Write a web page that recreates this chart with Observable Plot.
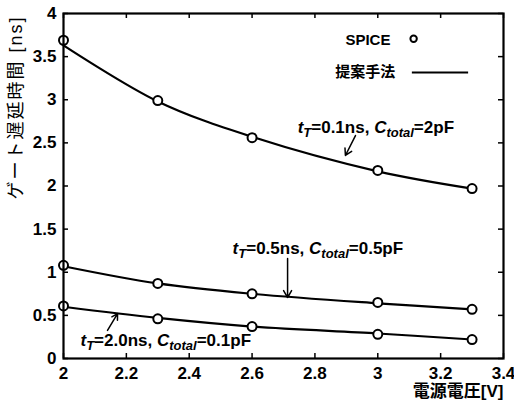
<!DOCTYPE html>
<html>
<head>
<meta charset="utf-8">
<script src="https://cdn.jsdelivr.net/npm/d3@7"></script>
<script src="https://cdn.jsdelivr.net/npm/@observablehq/plot@0.6"></script>
<style>
  html, body { margin: 0; padding: 0; background: #fff; }
  #chart { width: 514px; height: 401px; }
</style>
</head>
<body>
<div id="chart"></div>
<script>
// ---- data ----
const voltage = [2.0, 2.3, 2.6, 3.0, 3.3];
const spice01 = [3.69, 2.99, 2.56, 2.18, 1.97];
const model01 = [3.63, 2.98, 2.57, 2.17, 1.97];
const spice05 = [1.08, 0.87, 0.75, 0.65, 0.57];
const model05 = [1.07, 0.87, 0.75, 0.64, 0.57];
const spice20 = [0.61, 0.46, 0.37, 0.28, 0.22];
const model20 = [0.60, 0.47, 0.37, 0.29, 0.22];

const xTicks = [2, 2.2, 2.4, 2.6, 2.8, 3, 3.2, 3.4];
const yTicks = [0, 0.5, 1, 1.5, 2, 2.5, 3, 3.5, 4];

const yLabel = "ゲート遅延時間 [ns]";
const xLabel = "電源電圧[V]";

const annLabels = ["t|T|=0.1ns, C|total|=2pF", "t|T|=0.5ns, C|total|=0.5pF", "t|T|=2.0ns, C|total|=0.1pF"];
const annX = [2.745, 2.538, 2.054];
const annY = [2.68, 1.275, 0.21];
const arrowX1 = [2.929, 2.713, 2.14];
const arrowY1 = [2.585, 1.16, 0.325];
const arrowX2 = [2.897, 2.713, 2.172];
const arrowY2 = [2.354, 0.707, 0.52];

const legendLabels = ["SPICE", "提案手法"];
const legendTextX = [2.897, 2.865];
const legendY = [3.687, 3.316];
const legendCircleX = [3.114];
const legendLineX = [3.110, 3.289];

// ---- tables ----
const series = [
  {spice: spice01, model: model01},
  {spice: spice05, model: model05},
  {spice: spice20, model: model20}
];
const linePts = series.flatMap((s, k) => voltage.map((v, i) => ({k, x: v, y: s.model[i]})));
const dotPts = series.flatMap((s, k) => voltage.map((v, i) => ({k, x: v, y: s.spice[i]})));
const anns = annLabels.map((t, i) => ({t, x: annX[i], y: annY[i]}));
const arrows = arrowX1.map((x1, i) => ({x1, y1: arrowY1[i], x2: arrowX2[i], y2: arrowY2[i]}));
const legendTexts = legendLabels.map((t, i) => ({t, x: legendTextX[i], y: legendY[i]}));

const FONT = "'Liberation Sans', Arial, 'Noto Sans CJK JP', sans-serif";
const W = 514, H = 401, ML = 63, MR = 11, MT = 13, MB = 43;
const PW = W - ML - MR, PH = H - MT - MB;

const plot = Plot.plot({
  width: W, height: H,
  marginLeft: ML, marginRight: MR, marginTop: MT, marginBottom: MB,
  style: {fontFamily: FONT, fontSize: "17px", fontWeight: "bold", color: "#000", background: "#fff", overflow: "visible"},
  x: {domain: [2, 3.4]},
  y: {domain: [0, 4]},
  marks: [
    Plot.axisX({ticks: xTicks, tickSize: 0, tickPadding: 8, fontSize: 17, tickFormat: d => String(d), label: null}),
    Plot.axisY({ticks: yTicks, tickSize: 0, tickPadding: 7, fontSize: 17, tickFormat: d => String(d), label: null}),
    Plot.tickX(xTicks, {x: d => d, insetTop: PH - 5, stroke: "#000", strokeWidth: 1.5}),
    Plot.tickX(xTicks, {x: d => d, insetBottom: PH - 5, stroke: "#000", strokeWidth: 1.5}),
    Plot.tickY(yTicks, {y: d => d, insetRight: PW - 5, stroke: "#000", strokeWidth: 1.5}),
    Plot.tickY(yTicks, {y: d => d, insetLeft: PW - 5, stroke: "#000", strokeWidth: 1.5}),
    Plot.line(linePts, {x: "x", y: "y", z: "k", curve: "catmull-rom", stroke: "#000", strokeWidth: 2.2}),
    Plot.dot(dotPts, {x: "x", y: "y", r: 4.5, stroke: "#000", strokeWidth: 2, fill: "#fff"}),
    Plot.arrow(arrows, {x1: "x1", y1: "y1", x2: "x2", y2: "y2", stroke: "#000", strokeWidth: 1.5, headLength: 8}),
    Plot.text(anns, {x: "x", y: "y", text: "t", textAnchor: "start", fontSize: 17, fontWeight: "bold", fill: "#000"}),
    Plot.text(legendTexts, {x: "x", y: "y", text: "t", textAnchor: "start", fontSize: 15, fill: "#000"}),
    Plot.dot(legendCircleX, {x: d => d, y: legendY[0] + 0.02, r: 3.2, stroke: "#000", strokeWidth: 2, fill: "#fff"}),
    Plot.ruleY([legendY[1]], {x1: legendLineX[0], x2: legendLineX[1], stroke: "#000", strokeWidth: 2}),
    Plot.text([yLabel], {x: 2, y: 2.91, text: d => d, dx: -47, rotate: -90, fontSize: 18, fontWeight: "normal", fill: "#000"}),
    Plot.text([xLabel], {x: 3.4, y: 0, text: d => d, dy: 33, textAnchor: "end", fontSize: 17, fill: "#000"}),
    Plot.frame({stroke: "#000", strokeWidth: 2.2})
  ]
});
document.getElementById("chart").appendChild(plot);

// y label letter spacing
d3.select(plot).selectAll("text").filter(function () { return this.textContent === yLabel; })
  .attr("letter-spacing", 2);

// rich text for annotations (italic letters + subscripts)
d3.select(plot).selectAll("text").each(function () {
  const txt = this.textContent;
  if (!txt.includes("|")) return;
  const parts = txt.split("|");
  const sel = d3.select(this);
  sel.text(null);
  let shifted = false;
  parts.forEach((p, i) => {
    if (i % 2 === 1) {
      sel.append("tspan").attr("dy", 4).attr("font-size", 13).attr("font-style", "italic").text(p);
      shifted = true;
    } else {
      const nextSub = i < parts.length - 1;
      let normal = p, ital = "";
      if (nextSub) { normal = p.slice(0, -1); ital = p.slice(-1); }
      if (normal) {
        const ts = sel.append("tspan").text(normal);
        if (shifted) { ts.attr("dy", -4); shifted = false; }
      }
      if (ital) {
        const ts = sel.append("tspan").attr("font-style", "italic").text(ital);
        if (shifted) { ts.attr("dy", -4); shifted = false; }
      }
    }
  });
});
</script>
</body>
</html>
